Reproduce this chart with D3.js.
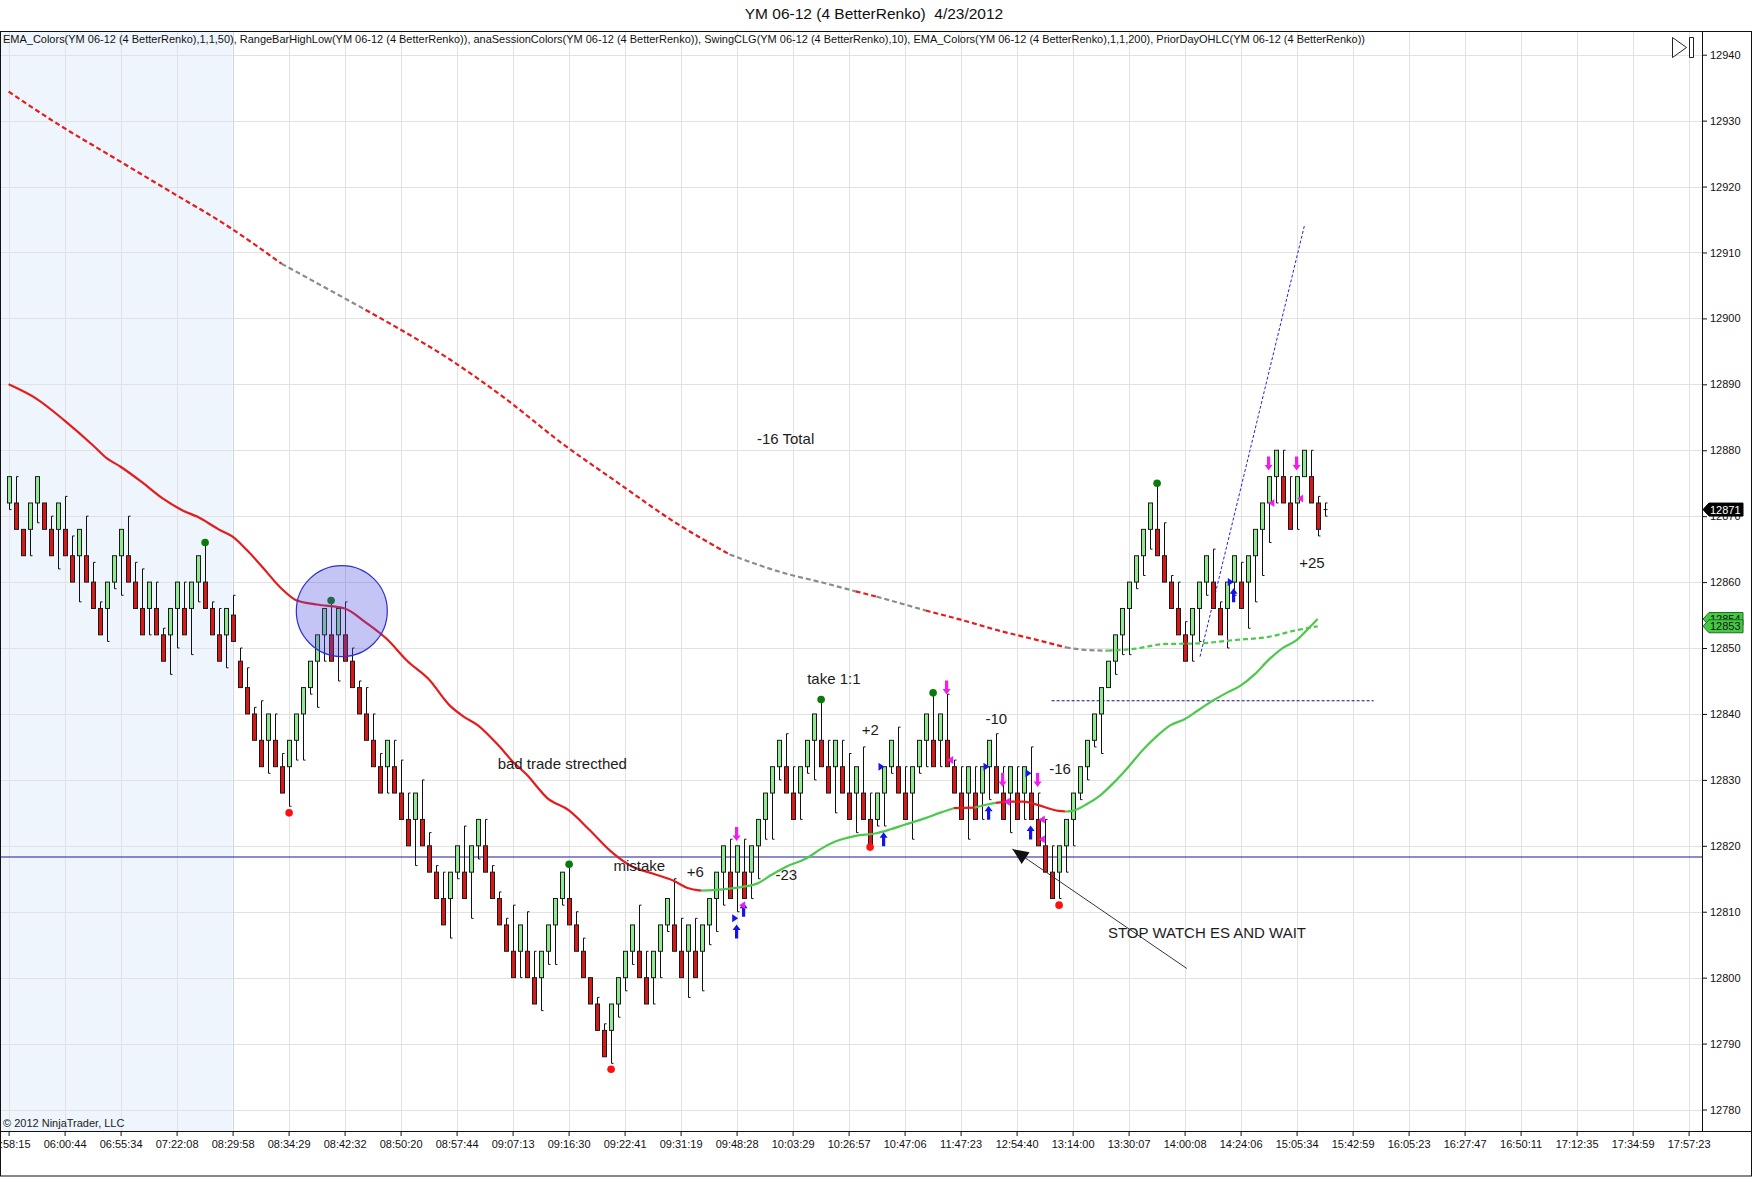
<!DOCTYPE html>
<html>
<head>
<meta charset="utf-8">
<script src="https://cdn.jsdelivr.net/npm/d3@7"></script>
<style>
  html, body { margin: 0; padding: 0; background: #fff; }
  svg { display: block; font-family: "Liberation Sans", Arial, sans-serif; }
</style>
</head>
<body>
<div id="chart"></div>
<script>
/* YM 06-12 (4 BetterRenko) 4/23/2012 — NinjaTrader-style renko chart */

const TITLE = 'YM 06-12 (4 BetterRenko)  4/23/2012';
const INDICATORS = 'EMA_Colors(YM 06-12 (4 BetterRenko),1,1,50), RangeBarHighLow(YM 06-12 (4 BetterRenko)), anaSessionColors(YM 06-12 (4 BetterRenko)), SwingCLG(YM 06-12 (4 BetterRenko),10), EMA_Colors(YM 06-12 (4 BetterRenko),1,1,200), PriorDayOHLC(YM 06-12 (4 BetterRenko))';
const COPYRIGHT = '\u00A9 2012 NinjaTrader, LLC';

// x-axis labels, one every 8 bricks
const timeLabels = ['05:58:15', '06:00:44', '06:55:34', '07:22:08', '08:29:58', '08:34:29', '08:42:32',
  '08:50:20', '08:57:44', '09:07:13', '09:16:30', '09:22:41', '09:31:19', '09:48:28', '10:03:29',
  '10:26:57', '10:47:06', '11:47:23', '12:54:40', '13:14:00', '13:30:07', '14:00:08', '14:24:06',
  '15:05:34', '15:42:59', '16:05:23', '16:27:47', '16:50:11', '17:12:35', '17:34:59', '17:57:23'];
const priceTicks = [12780, 12790, 12800, 12810, 12820, 12830, 12840, 12850, 12860, 12870, 12880, 12890, 12900, 12910, 12920, 12930, 12940];

// renko bricks
const barOpen = [
  12872, 12872, 12868, 12868, 12872, 12872, 12868, 12868, 12868, 12864, 12864, 12864, 12860, 12856, 12856, 12860,
  12864, 12864, 12860, 12856, 12856, 12856, 12852, 12852, 12856, 12856, 12856, 12860, 12860, 12856, 12852, 12852,
  12855, 12848, 12844, 12840, 12836, 12836, 12836, 12832, 12832, 12836, 12840, 12844, 12848, 12852, 12852, 12852,
  12852, 12848, 12844, 12840, 12836, 12832, 12832, 12832, 12828, 12824, 12824, 12824, 12820, 12816, 12812, 12812,
  12816, 12816, 12816, 12820, 12820, 12816, 12812, 12808, 12804, 12804, 12804, 12800, 12800, 12804, 12808, 12812,
  12812, 12808, 12804, 12800, 12796, 12792, 12792, 12796, 12800, 12804, 12804, 12800, 12800, 12804, 12808, 12808,
  12804, 12804, 12804, 12804, 12808, 12812, 12816, 12816, 12816, 12816, 12816, 12820, 12824, 12828, 12832, 12832,
  12828, 12828, 12832, 12836, 12836, 12832, 12832, 12832, 12828, 12828, 12828, 12824, 12824, 12828, 12832, 12832,
  12828, 12828, 12832, 12836, 12836, 12836, 12836, 12832, 12828, 12828, 12828, 12828, 12832, 12832, 12828, 12828,
  12828, 12828, 12828, 12824, 12820, 12816, 12816, 12820, 12824, 12828, 12832, 12836, 12840, 12844, 12848, 12852,
  12856, 12860, 12864, 12868, 12868, 12864, 12860, 12856, 12852, 12852, 12856, 12860, 12860, 12856, 12856, 12860,
  12860, 12860, 12864, 12868, 12872, 12876, 12876, 12872, 12872, 12876, 12876, 12872, 12871];
const barClose = [
  12876, 12868, 12864, 12872, 12876, 12868, 12864, 12872, 12864, 12860, 12868, 12860, 12856, 12852, 12860, 12864,
  12868, 12860, 12856, 12852, 12860, 12852, 12848, 12856, 12860, 12852, 12860, 12864, 12856, 12852, 12848, 12856,
  12851, 12844, 12840, 12836, 12832, 12840, 12832, 12828, 12836, 12840, 12844, 12848, 12852, 12856, 12848, 12856,
  12848, 12844, 12840, 12836, 12832, 12828, 12836, 12828, 12824, 12820, 12828, 12820, 12816, 12812, 12808, 12816,
  12820, 12812, 12820, 12824, 12816, 12812, 12808, 12804, 12800, 12808, 12800, 12796, 12804, 12808, 12812, 12816,
  12808, 12804, 12800, 12796, 12792, 12788, 12796, 12800, 12804, 12808, 12800, 12796, 12804, 12808, 12812, 12804,
  12800, 12808, 12800, 12808, 12812, 12816, 12820, 12812, 12820, 12812, 12820, 12824, 12828, 12832, 12836, 12828,
  12824, 12832, 12836, 12840, 12832, 12828, 12836, 12828, 12824, 12832, 12824, 12820, 12828, 12832, 12836, 12828,
  12824, 12832, 12836, 12840, 12832, 12840, 12832, 12828, 12824, 12832, 12824, 12832, 12836, 12828, 12824, 12832,
  12824, 12832, 12824, 12820, 12816, 12812, 12820, 12824, 12828, 12832, 12836, 12840, 12844, 12848, 12852, 12856,
  12860, 12864, 12868, 12872, 12864, 12860, 12856, 12852, 12848, 12856, 12860, 12864, 12856, 12852, 12860, 12864,
  12856, 12864, 12868, 12872, 12876, 12880, 12872, 12868, 12876, 12880, 12872, 12868, 12871];
const barHigh = [
  12876, 12876, 12868, 12872, 12876, 12872, 12870, 12872, 12873, 12867, 12868, 12870, 12863, 12857, 12860, 12864,
  12868, 12870, 12863, 12862, 12860, 12860, 12853, 12856, 12860, 12860, 12860, 12864, 12866, 12857, 12856, 12856,
  12858, 12850, 12847, 12841, 12842, 12840, 12840, 12834, 12836, 12840, 12844, 12848, 12852, 12856, 12857, 12856,
  12857, 12850, 12845, 12844, 12840, 12834, 12836, 12836, 12833, 12828, 12828, 12830, 12822, 12817, 12816, 12816,
  12820, 12823, 12820, 12824, 12824, 12817, 12813, 12809, 12811, 12808, 12810, 12804, 12804, 12808, 12812, 12816,
  12817, 12810, 12806, 12800, 12797, 12793, 12796, 12800, 12804, 12808, 12811, 12804, 12804, 12808, 12812, 12815,
  12809, 12808, 12809, 12808, 12812, 12816, 12820, 12821, 12820, 12821, 12820, 12824, 12828, 12832, 12836, 12837,
  12832, 12832, 12836, 12840, 12842, 12836, 12836, 12836, 12834, 12832, 12835, 12828, 12828, 12832, 12836, 12838,
  12832, 12832, 12836, 12840, 12843, 12840, 12843, 12833, 12832, 12832, 12832, 12832, 12836, 12837, 12832, 12832,
  12832, 12832, 12835, 12828, 12824, 12820, 12820, 12824, 12828, 12832, 12836, 12840, 12844, 12848, 12852, 12856,
  12860, 12864, 12868, 12872, 12875, 12869, 12861, 12860, 12854, 12856, 12860, 12864, 12865, 12857, 12860, 12864,
  12863, 12864, 12868, 12872, 12876, 12880, 12880, 12876, 12876, 12880, 12880, 12873, 12872];
const barLow = [
  12871, 12868, 12864, 12864, 12869, 12868, 12864, 12862, 12864, 12860, 12857, 12860, 12856, 12852, 12851, 12859,
  12858, 12860, 12856, 12852, 12852, 12852, 12848, 12846, 12850, 12852, 12849, 12857, 12856, 12852, 12848, 12847,
  12851, 12844, 12840, 12836, 12832, 12831, 12832, 12828, 12826, 12833, 12833, 12843, 12841, 12848, 12848, 12845,
  12848, 12844, 12840, 12836, 12832, 12828, 12828, 12828, 12824, 12820, 12817, 12820, 12816, 12812, 12808, 12806,
  12815, 12812, 12809, 12818, 12816, 12812, 12808, 12804, 12800, 12800, 12800, 12796, 12795, 12802, 12802, 12811,
  12808, 12804, 12800, 12796, 12792, 12788, 12787, 12794, 12798, 12802, 12800, 12796, 12796, 12800, 12807, 12804,
  12800, 12797, 12800, 12798, 12805, 12807, 12811, 12812, 12810, 12812, 12812, 12815, 12821, 12821, 12830, 12828,
  12824, 12824, 12831, 12830, 12832, 12828, 12825, 12828, 12824, 12822, 12824, 12820, 12823, 12823, 12831, 12828,
  12824, 12821, 12831, 12832, 12832, 12832, 12832, 12828, 12824, 12821, 12824, 12824, 12827, 12828, 12824, 12822,
  12824, 12824, 12824, 12820, 12816, 12812, 12812, 12816, 12820, 12827, 12830, 12835, 12834, 12844, 12846, 12849,
  12849, 12859, 12861, 12865, 12864, 12860, 12856, 12852, 12848, 12848, 12851, 12858, 12856, 12852, 12850, 12858,
  12856, 12853, 12857, 12861, 12866, 12872, 12872, 12868, 12868, 12876, 12872, 12867, 12870];

// EMA(50), sampled along the bricks
const ema50Idx = [0, 4, 8, 12, 14, 16, 19, 22, 25, 27, 30, 32, 34, 36, 39, 41, 44, 48, 51, 54, 57, 60, 63, 65, 67, 70,
  72, 74, 77, 80, 83, 86, 89, 92, 95, 97, 99, 102, 105, 107, 109, 111, 114, 116, 118, 121, 124, 126, 128, 131, 133,
  135, 138, 140, 141, 143, 145, 147, 150, 151, 152, 154, 156, 158, 160, 162, 164, 166, 168, 170, 172, 174, 176, 178,
  180, 182, 184, 186, 187];
const ema50Val = [12890, 12887.8, 12884.5, 12880.8, 12878.8, 12877.5, 12875.2, 12872.7, 12870.8, 12869.9, 12868.0,
  12866.9, 12864.9, 12862.6, 12859.0, 12857.3, 12856.6, 12856.0, 12853.9, 12851.4, 12848.0, 12845.3, 12841.3, 12839.6,
  12838.3, 12835.2, 12832.8, 12830.8, 12827.2, 12825.4, 12822.4, 12819.2, 12816.9, 12815.8, 12814.7, 12813.6, 12813.2,
  12813.4, 12813.8, 12814.3, 12815.6, 12816.8, 12818.1, 12819.5, 12820.6, 12821.5, 12821.9, 12822.5, 12823.2, 12824.2,
  12825.0, 12825.7, 12825.8, 12826.3, 12826.5, 12826.7, 12826.7, 12826.2, 12825.3, 12825.2, 12825.3, 12826.3, 12827.7,
  12829.7, 12832.0, 12834.5, 12836.6, 12838.3, 12839.2, 12840.6, 12842.0, 12843.2, 12844.3, 12846.0, 12848.2, 12850.0,
  12851.2, 12853.3, 12854.4];
const ema50TrendStart = [0, 99, 135, 138, 141, 151];
const ema50Trend = ['down', 'up', 'down', 'up', 'down', 'up'];

// EMA(200), dashed
const ema200Idx = [0, 7, 15, 23, 31, 39, 45, 51, 55, 63, 71, 79, 87, 95, 103, 111, 116, 121, 124, 131, 136, 142, 147,
  151, 154, 157, 161, 165, 170, 175, 180, 184, 187];
const ema200Val = [12934.4, 12929.5, 12924.4, 12919.3, 12914.2, 12908.3, 12904.8, 12901.3, 12898.9, 12893.8, 12887.8,
  12881.1, 12875.1, 12869.2, 12864.2, 12861.3, 12860.0, 12858.6, 12857.8, 12855.7, 12854.3, 12852.5, 12851.2, 12850.1,
  12849.7, 12849.6, 12849.9, 12850.6, 12850.7, 12851.2, 12851.7, 12852.7, 12853.3];
const ema200TrendStart = [0, 39, 51, 103, 121, 124, 131, 151, 157];
const ema200Trend = ['down', 'flat', 'down', 'flat', 'down', 'flat', 'down', 'flat', 'up'];

// SwingCLG dots
const swingHighIdx = [28, 46, 80, 116, 132, 164];
const swingHighPrice = [12866.0, 12857.2, 12817.2, 12842.2, 12843.2, 12875.0];
const swingLowIdx = [40, 86, 123, 150];
const swingLowPrice = [12825.0, 12786.1, 12819.8, 12811.0];

// trade markers
const longIdx = [104, 105, 125, 140, 146, 175];
const longPrice = [12807, 12810.3, 12821, 12825, 12822, 12858];
const shortIdx = [104, 134, 142, 147, 180, 184];
const shortPrice = [12821.8, 12844, 12830, 12830, 12878, 12878];
const exitLongIdx = [103.8, 124.7, 139.7, 145.7, 174.6];
const exitLongPrice = [12809, 12832, 12832, 12831, 12860];
const exitShortIdx = [104.8, 134.5, 142.6, 147.6, 147.6, 180.4, 184.5];
const exitShortPrice = [12811, 12833, 12826.7, 12824, 12821, 12872, 12872.7];

// session / prior day / drawings
const sessionEndIdx = 32;
const priorDayClose = 12818.3;
const markerLast = { label: '12871', price: 12871 };
const markerEma = [{ label: '12854', price: 12854.4 }, { label: '12853', price: 12853.3 }];
const notes = [
  { text: '-16 Total', idx: 111, price: 12881.7 },
  { text: 'take 1:1', idx: 117.9, price: 12845.4 },
  { text: '+2', idx: 123.1, price: 12837.6 },
  { text: '-10', idx: 141.1, price: 12839.3 },
  { text: '-16', idx: 150.2, price: 12831.7 },
  { text: '-23', idx: 111.1, price: 12815.6 },
  { text: 'bad trade strecthed', idx: 79.1, price: 12832.5 },
  { text: 'mistake', idx: 90.1, price: 12816.9 },
  { text: '+6', idx: 98.1, price: 12816.0 },
  { text: 'STOP WATCH ES AND WAIT', idx: 171.2, price: 12806.8 },
  { text: '+25', idx: 186.2, price: 12862.9 },
];
const circleCenter = { idx: 47.6, price: 12855.6, rBars: 6.5 };
const hLineDotted = { from: 149, to: 195, price: 12842 };
const trendLine = [{ idx: 170.2, price: 12848.7 }, { idx: 185.1, price: 12914 }];
const noteArrow = [{ idx: 168.3, price: 12801.4 }, { idx: 143.4, price: 12819.5 }];

(function () {
  const W = 1752, H = 1177;
  const plot = { left: 0, top: 31, right: 1702, bottom: 1131 };
  const slots = (timeLabels.length - 1) * 8;

  const x = d3.scaleLinear().domain([0, slots]).range([8.6, 8.6 + slots * 7]);
  const y = d3.scaleLinear().domain([12780, 12940]).range([1109.5, 54.7]);

  const svg = d3.select('#chart').append('svg')
    .attr('width', W).attr('height', H)
    .attr('viewBox', `0 0 ${W} ${H}`);

  svg.append('defs').append('clipPath').attr('id', 'plotclip')
    .append('rect')
    .attr('x', plot.left).attr('y', plot.top)
    .attr('width', plot.right - plot.left).attr('height', plot.bottom - plot.top);

  // title
  svg.append('text')
    .attr('x', 874).attr('y', 19)
    .attr('text-anchor', 'middle')
    .style('font-size', '15.5px').style('fill', '#111')
    .style('white-space', 'pre')
    .text(TITLE);

  const g = svg.append('g').attr('clip-path', 'url(#plotclip)');

  // session shading
  g.append('rect')
    .attr('x', plot.left).attr('y', plot.top)
    .attr('width', x(sessionEndIdx) - plot.left)
    .attr('height', plot.bottom - plot.top)
    .attr('fill', '#eef5fc');

  // gridlines
  const tickIdx = timeLabels.map((d, i) => i * 8);
  g.append('g').selectAll('line').data(priceTicks).enter().append('line')
    .attr('x1', plot.left).attr('x2', plot.right)
    .attr('y1', d => Math.round(y(d)) + 0.5).attr('y2', d => Math.round(y(d)) + 0.5)
    .attr('stroke', '#e2e2e2').attr('stroke-width', 1);
  g.append('g').selectAll('line').data(tickIdx).enter().append('line')
    .attr('x1', d => Math.round(x(d)) + 0.5).attr('x2', d => Math.round(x(d)) + 0.5)
    .attr('y1', plot.top).attr('y2', plot.bottom)
    .attr('stroke', d => d === sessionEndIdx ? '#cfd8e2' : '#e2e2e2').attr('stroke-width', 1);

  svg.append('text')
    .attr('x', 3).attr('y', 43)
    .attr('textLength', 1362).attr('lengthAdjust', 'spacingAndGlyphs')
    .style('font-size', '11px').style('fill', '#111')
    .text(INDICATORS);

  // prior day close
  g.append('line')
    .attr('x1', plot.left).attr('x2', plot.right)
    .attr('y1', y(priorDayClose)).attr('y2', y(priorDayClose))
    .attr('stroke', '#1a1a9c').attr('stroke-width', 1.2);

  // dotted level + trend line
  g.append('line')
    .attr('x1', x(hLineDotted.from)).attr('x2', x(hLineDotted.to))
    .attr('y1', y(hLineDotted.price)).attr('y2', y(hLineDotted.price))
    .attr('stroke', '#10108a').attr('stroke-width', 1).attr('stroke-dasharray', '3,2');
  g.append('line')
    .attr('x1', x(trendLine[0].idx)).attr('y1', y(trendLine[0].price))
    .attr('x2', x(trendLine[1].idx)).attr('y2', y(trendLine[1].price))
    .attr('stroke', '#2424d8').attr('stroke-width', 1).attr('stroke-dasharray', '3,2');

  // bricks
  const bars = barOpen.map((o, i) => ({
    i, o, c: barClose[i], h: barHigh[i], l: barLow[i],
  }));
  const bw = 4;
  const barG = g.append('g');
  bars.forEach(b => {
    const cx = Math.round(x(b.i)) + 0.5;
    const top = Math.max(b.o, b.c), bot = Math.min(b.o, b.c);
    if (b.h > top) {
      barG.append('path')
        .attr('d', `M${cx},${y(top)}V${y(b.h)}h2`)
        .attr('fill', 'none').attr('stroke', '#111').attr('stroke-width', 1);
    }
    if (b.l < bot) {
      barG.append('path')
        .attr('d', `M${cx},${y(bot)}V${y(b.l)}h2`)
        .attr('fill', 'none').attr('stroke', '#111').attr('stroke-width', 1);
    }
    if (top === bot) {
      barG.append('line')
        .attr('x1', cx - bw / 2).attr('x2', cx + bw / 2)
        .attr('y1', y(top)).attr('y2', y(top))
        .attr('stroke', '#111');
      return;
    }
    barG.append('rect')
      .attr('x', cx - bw / 2).attr('width', bw)
      .attr('y', y(top)).attr('height', y(bot) - y(top))
      .attr('fill', b.c > b.o ? '#92e892' : '#d81717')
      .attr('stroke', '#1a1a1a').attr('stroke-width', 1);
  });

  // EMA lines on top of price, split into coloured runs
  const trendColor = { down: '#e41c1c', up: '#4cc94c', flat: '#8c8c8c' };
  function trendAt(i, starts, states) {
    let s = states[0];
    starts.forEach((st, k) => { if (i >= st) s = states[k]; });
    return s;
  }
  function drawEma(idxs, vals, starts, states, dash) {
    const pts = idxs.map((d, i) => ({ i: d, v: vals[i], t: trendAt(d, starts, states) }));
    const line = d3.line().x(d => x(d.i)).y(d => y(d.v)).curve(d3.curveMonotoneX);
    let run = [pts[0]];
    for (let k = 1; k < pts.length; k++) {
      run.push(pts[k]);
      if (pts[k].t !== run[0].t || k === pts.length - 1) {
        g.append('path')
          .attr('d', line(run))
          .attr('fill', 'none')
          .attr('stroke', trendColor[run[0].t])
          .attr('stroke-width', 2.2)
          .attr('stroke-dasharray', dash || null);
        run = [pts[k]];
      }
    }
  }
  drawEma(ema200Idx, ema200Val, ema200TrendStart, ema200Trend, '5,3');
  drawEma(ema50Idx, ema50Val, ema50TrendStart, ema50Trend, null);

  // swing dots
  g.append('g').selectAll('circle').data(swingHighIdx).enter().append('circle')
    .attr('cx', d => x(d) + 0.5).attr('cy', (d, i) => y(swingHighPrice[i]))
    .attr('r', 3.8).attr('fill', '#0a7a0a');
  g.append('g').selectAll('circle').data(swingLowIdx).enter().append('circle')
    .attr('cx', d => x(d) + 0.5).attr('cy', (d, i) => y(swingLowPrice[i]))
    .attr('r', 3.8).attr('fill', '#ff1010');

  // trade markers
  const upArrow = 'M0,-7L4,-1.5H1.6V7H-1.6V-1.5H-4Z';
  const downArrow = 'M0,7L4,1.5H1.6V-7H-1.6V1.5H-4Z';
  const triRight = 'M-3,-4L3,0L-3,4Z';
  const triLeft = 'M3,-4L-3,0L3,4Z';
  const mk = g.append('g');
  longIdx.forEach((d, i) => mk.append('path')
    .attr('transform', `translate(${x(d)},${y(longPrice[i])})`)
    .attr('d', upArrow).attr('fill', '#1414e6'));
  shortIdx.forEach((d, i) => mk.append('path')
    .attr('transform', `translate(${x(d)},${y(shortPrice[i])})`)
    .attr('d', downArrow).attr('fill', '#f01cf0'));
  exitLongIdx.forEach((d, i) => mk.append('path')
    .attr('transform', `translate(${x(d)},${y(exitLongPrice[i])})`)
    .attr('d', triRight).attr('fill', '#1414e6'));
  exitShortIdx.forEach((d, i) => mk.append('path')
    .attr('transform', `translate(${x(d)},${y(exitShortPrice[i])})`)
    .attr('d', triLeft).attr('fill', '#f01cf0'));

  // highlight circle
  const cr = x(circleCenter.idx + circleCenter.rBars) - x(circleCenter.idx);
  g.append('circle')
    .attr('cx', x(circleCenter.idx)).attr('cy', y(circleCenter.price))
    .attr('r', cr)
    .attr('fill', 'rgba(70,70,225,0.32)')
    .attr('stroke', '#2f2fd0').attr('stroke-width', 1.2);

  // note arrow
  const ax0 = x(noteArrow[0].idx), ay0 = y(noteArrow[0].price);
  const ax1 = x(noteArrow[1].idx), ay1 = y(noteArrow[1].price);
  const ang = Math.atan2(ay1 - ay0, ax1 - ax0) * 180 / Math.PI;
  g.append('line')
    .attr('x1', ax0).attr('y1', ay0).attr('x2', ax1).attr('y2', ay1)
    .attr('stroke', '#333').attr('stroke-width', 1);
  g.append('path')
    .attr('transform', `translate(${ax1},${ay1}) rotate(${ang})`)
    .attr('d', 'M0,0L-16,-7L-16,7Z')
    .attr('fill', '#111');

  // text notes
  g.append('g').selectAll('text').data(notes).enter().append('text')
    .attr('x', d => x(d.idx)).attr('y', d => y(d.price))
    .attr('dy', '0.35em')
    .attr('text-anchor', 'middle')
    .style('font-size', '15px').style('fill', '#1c1c1c')
    .text(d => d.text);

  // copyright
  svg.append('text')
    .attr('x', 3).attr('y', 1127)
    .style('font-size', '11px').style('fill', '#222')
    .text(COPYRIGHT);

  // axes
  const xAxis = svg.append('g')
    .attr('transform', `translate(0,${plot.bottom})`)
    .call(d3.axisBottom(x).tickValues(tickIdx)
      .tickFormat((d, i) => timeLabels[i]).tickSize(5).tickPadding(4));
  xAxis.select('.domain').remove();
  xAxis.selectAll('text').style('font-size', '11px').style('fill', '#111')
    .style('font-family', '"Liberation Sans", Arial, sans-serif');
  xAxis.selectAll('line').attr('stroke', '#111');

  const yAxis = svg.append('g')
    .attr('transform', `translate(${plot.right},0)`)
    .call(d3.axisRight(y).tickValues(priceTicks).tickFormat(d3.format('d')).tickSize(5).tickPadding(3));
  yAxis.select('.domain').remove();
  yAxis.selectAll('text').style('font-size', '11px').style('fill', '#111')
    .style('font-family', '"Liberation Sans", Arial, sans-serif');
  yAxis.selectAll('line').attr('stroke', '#111');

  // frame
  svg.append('rect')
    .attr('x', 0.5).attr('y', plot.top + 0.5)
    .attr('width', W - 1).attr('height', H - plot.top - 1.5)
    .attr('fill', 'none').attr('stroke', '#111').attr('stroke-width', 1);
  svg.append('line')
    .attr('x1', 0).attr('x2', W).attr('y1', plot.bottom + 0.5).attr('y2', plot.bottom + 0.5)
    .attr('stroke', '#111');
  svg.append('line')
    .attr('x1', plot.right + 0.5).attr('x2', plot.right + 0.5)
    .attr('y1', plot.top).attr('y2', plot.bottom)
    .attr('stroke', '#111');

  // price markers on the axis
  function priceTag(m, fill, stroke, txt) {
    const py = y(m.price);
    svg.append('path')
      .attr('d', `M${plot.right + 1},${py}L${plot.right + 7},${py - 6.5}H${plot.right + 41}V${py + 6.5}H${plot.right + 7}Z`)
      .attr('fill', fill).attr('stroke', stroke).attr('stroke-width', 1);
    svg.append('text')
      .attr('x', plot.right + 8).attr('y', py).attr('dy', '0.36em')
      .style('font-size', '11px').style('fill', txt)
      .text(m.label);
  }
  markerEma.forEach(m => priceTag(m, '#45c945', '#1d6e1d', '#111'));
  priceTag(markerLast, '#000', '#000', '#fff');

  // chart-trader icon
  svg.append('path')
    .attr('d', 'M1672.5,37.5L1686.5,47.5L1672.5,57.5Z M1689.5,37.5H1693.5V57.5H1689.5Z')
    .attr('fill', '#fff').attr('stroke', '#222').attr('stroke-width', 1);
})();
</script>
</body>
</html>
